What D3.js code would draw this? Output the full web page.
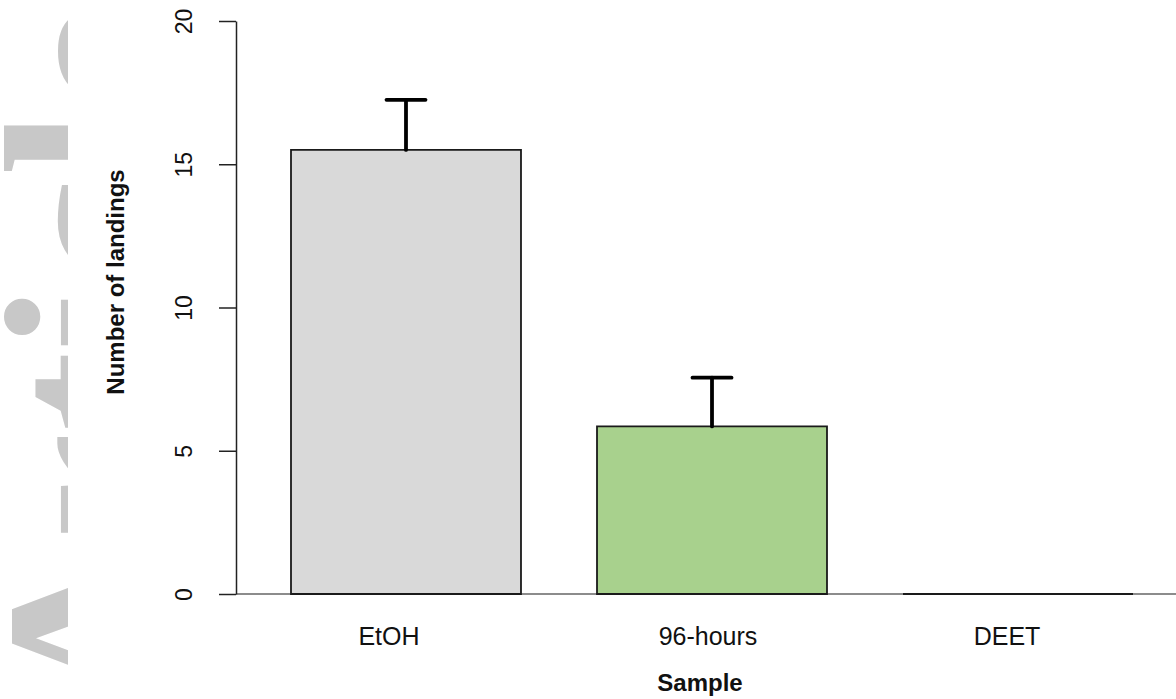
<!DOCTYPE html>
<html>
<head>
<meta charset="utf-8">
<script src="https://cdn.jsdelivr.net/npm/d3@7"></script>
<style>
  html, body { margin: 0; padding: 0; background: #fff; }
  svg { display: block; font-family: "Liberation Sans", Arial, sans-serif; }
</style>
</head>
<body>
<div id="chart"></div>
<script>
// Landings per sample, mean and standard error bars.
const samples = ['EtOH', '96-hours', 'DEET'];
const means = [15.5, 5.85, 0];
const errors = [1.75, 1.7, 0];
const yTicks = [0, 5, 10, 15, 20];
const barColors = ['#d9d9d9', '#a8d18d', '#ffffff'];
// small horizontal nudges for the category labels (px), as in the original figure
const labelNudge = [-17, -4, -11];

const width = 1176, height = 699;
const svg = d3.select('#chart').append('svg').attr('width', width).attr('height', height);

// faint journal watermark on the left edge, mostly hidden under the figure
svg.append('clipPath').attr('id', 'wm-clip')
  .append('rect').attr('x', 0).attr('y', 0).attr('width', 68).attr('height', height);
svg.append('g')
  .attr('clip-path', 'url(#wm-clip)')
  .append('text')
  .attr('transform', 'translate(172,714) rotate(-90)')
  .style('font-family', '"Liberation Serif", "Times New Roman", serif')
  .style('font-weight', 'bold')
  .style('font-size', '242px')
  .attr('fill', '#c8c8c8')
  .text('Article');

const y = d3.scaleLinear().domain([0, 20]).range([594, 21]);
const x = d3.scaleBand().domain(samples).range([291, 1133]).paddingInner(0.2484).paddingOuter(0);
const axisX = 236;

// baseline across the plot
svg.append('line')
  .attr('x1', axisX).attr('x2', width)
  .attr('y1', y(0)).attr('y2', y(0))
  .attr('stroke', '#666').attr('stroke-width', 1.5);

// bars drawn as paths so that a zero-height bar still shows its outline
svg.append('g').selectAll('path')
  .data(samples)
  .enter()
  .append('path')
  .attr('d', (d, i) => {
    const p = d3.path();
    p.rect(x(d), y(means[i]), x.bandwidth(), y(0) - y(means[i]));
    return p.toString();
  })
  .attr('fill', (d, i) => barColors[i])
  .attr('stroke', '#1a1a1a')
  .attr('stroke-width', 1.8);

// error bars, upper half only
const capW = 39;
const eb = svg.append('g').attr('stroke', '#000').attr('stroke-width', 3.8).attr('stroke-linecap', 'round');
samples.forEach((d, i) => {
  if (!errors[i]) return;
  const cx = x(d) + x.bandwidth() / 2;
  eb.append('line').attr('x1', cx).attr('x2', cx).attr('y1', y(means[i])).attr('y2', y(means[i] + errors[i]));
  eb.append('line').attr('x1', cx - capW / 2).attr('x2', cx + capW / 2)
    .attr('y1', y(means[i] + errors[i])).attr('y2', y(means[i] + errors[i]));
});

// y axis in R style, labels parallel to the axis
const yAxis = svg.append('g')
  .attr('transform', `translate(${axisX},0)`)
  .call(d3.axisLeft(y).tickValues(yTicks).tickSize(17).tickSizeOuter(0));
yAxis.select('.domain').attr('stroke', '#222').attr('stroke-width', 1.5);
yAxis.selectAll('.tick line').attr('stroke', '#222').attr('stroke-width', 1.5);
yAxis.selectAll('.tick text')
  .attr('x', 0).attr('y', 0).attr('dy', null)
  .attr('transform', 'translate(-44,0) rotate(-90)')
  .attr('text-anchor', 'middle')
  .attr('fill', '#111')
  .style('font-size', '23px')
  .style('font-family', '"Liberation Sans", Arial, sans-serif');

// category labels
svg.append('g').selectAll('text')
  .data(samples)
  .enter()
  .append('text')
  .attr('x', (d, i) => x(d) + x.bandwidth() / 2 + labelNudge[i])
  .attr('y', 645)
  .attr('text-anchor', 'middle')
  .attr('fill', '#111')
  .style('font-size', '25px')
  .text(d => d);

// axis titles
svg.append('text')
  .attr('x', 700).attr('y', 691)
  .attr('text-anchor', 'middle')
  .style('font-size', '24px').style('font-weight', 'bold')
  .attr('fill', '#111')
  .text('Sample');

svg.append('text')
  .attr('transform', 'translate(124,282) rotate(-90)')
  .attr('text-anchor', 'middle')
  .style('font-size', '24px').style('font-weight', 'bold')
  .attr('fill', '#111')
  .text('Number of landings');
</script>
</body>
</html>
